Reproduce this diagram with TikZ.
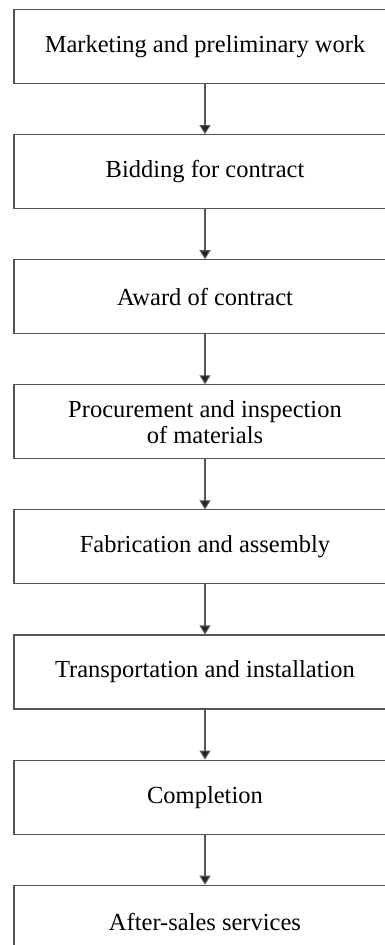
\documentclass[tikz,border=0pt]{standalone}
\usepackage{fontspec}
\setmainfont{Liberation Serif}
\usepackage{tikz}
\usetikzlibrary{arrows.meta,positioning}
\definecolor{Edge}{HTML}{555555}
\definecolor{Tip}{HTML}{222222}

\begin{document}
\begin{tikzpicture}[
    stage/.style={rectangle,draw=Edge,line width=1.1pt,minimum width=382pt,minimum height=74pt,align=center,font=\fontsize{24.5}{26}\selectfont,inner sep=0pt},
    arrow/.style={-{Triangle[length=9pt,width=11pt,fill=Tip]},line width=1.1pt,draw=Edge},
    node distance=50pt
]
\useasboundingbox (0,0) rectangle (384pt,-945pt);
\node[stage] (mkt) at (205pt,-46.5pt) {Marketing and preliminary work};
\node[stage,below=of mkt] (bid) {Bidding for contract};
\node[stage,below=of bid] (award) {Award of contract};
\node[stage,below=of award] (proc) {Procurement and inspection\\of materials};
\node[stage,below=of proc] (fab) {Fabrication and assembly};
\node[stage,below=of fab] (trans) {Transportation and installation};
\node[stage,below=of trans] (compl) {Completion};
\node[stage,below=of compl] (after) {After-sales services};
\draw[arrow] (mkt) -- (bid);
\draw[arrow] (bid) -- (award);
\draw[arrow] (award) -- (proc);
\draw[arrow] (proc) -- (fab);
\draw[arrow] (fab) -- (trans);
\draw[arrow] (trans) -- (compl);
\draw[arrow] (compl) -- (after);
\end{tikzpicture}
\end{document}
